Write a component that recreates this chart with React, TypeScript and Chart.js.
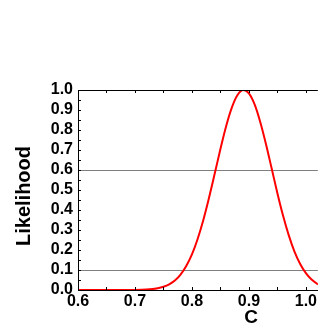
import React, { useEffect, useRef } from "react";
import { Chart, registerables } from "chart.js";

Chart.register(...registerables);

const cValues = [0.6, 0.65, 0.7, 0.72, 0.74, 0.75, 0.76, 0.77, 0.78, 0.79, 0.8, 0.81, 0.82, 0.83, 0.84, 0.85, 0.86, 0.87, 0.88, 0.89, 0.9, 0.91, 0.92, 0.93, 0.94, 0.95, 0.96, 0.97, 0.98, 0.99, 1.0, 1.01, 1.02, 1.03];
const likelihood = [0, 0, 0.0005, 0.0023, 0.0087, 0.016, 0.028, 0.047, 0.077, 0.12, 0.178, 0.255, 0.35, 0.461, 0.582, 0.705, 0.819, 0.912, 0.975, 1.0, 0.983, 0.928, 0.839, 0.729, 0.607, 0.484, 0.371, 0.273, 0.192, 0.13, 0.084, 0.052, 0.031, 0.018];
const gridLevels = [0.6, 0.1];
const xTickLabels = [0.6, 0.7, 0.8, 0.9, 1.0];
const yTickLabels = [0, 0.1, 0.2, 0.3, 0.4, 0.5, 0.6, 0.7, 0.8, 0.9, 1.0];
const xTitle = "C";
const yTitle = "Likelihood";

const FONT = "'Liberation Sans', Arial, sans-serif";

const decoPlugin = {
  id: "deco",
  afterDatasetsDraw(chart: any) {
    const { ctx, chartArea } = chart;
    const xs = chart.scales.x;
    const ys = chart.scales.y;
    ctx.save();
    ctx.strokeStyle = "#000";
    ctx.lineWidth = 1;
    ctx.beginPath();
    ctx.moveTo(chartArea.left, chartArea.top + 0.5);
    ctx.lineTo(chartArea.right, chartArea.top + 0.5);
    ctx.stroke();
    const len = 3;
    ctx.beginPath();
    for (let v = 0.6; v <= xs.max + 1e-9; v += 0.05) {
      const px = Math.round(xs.getPixelForValue(v)) + 0.5;
      ctx.moveTo(px, chartArea.bottom);
      ctx.lineTo(px, chartArea.bottom - len);
      ctx.moveTo(px, chartArea.top);
      ctx.lineTo(px, chartArea.top + len);
    }
    for (let v = 0; v <= 1 + 1e-9; v += 0.05) {
      const py = Math.round(ys.getPixelForValue(v)) + 0.5;
      ctx.moveTo(chartArea.left, py);
      ctx.lineTo(chartArea.left + len, py);
    }
    ctx.stroke();
    ctx.fillStyle = "#000";
    ctx.font = `bold 19px ${FONT}`;
    ctx.textAlign = "center";
    ctx.textBaseline = "middle";
    ctx.fillText(xTitle, 251, 318);
    ctx.translate(24, 196);
    ctx.rotate(-Math.PI / 2);
    ctx.font = `bold 20px ${FONT}`;
    ctx.fillText(yTitle, 0, 0);
    ctx.restore();
  },
};

export default function App() {
  const ref = useRef<HTMLCanvasElement>(null);
  useEffect(() => {
    const points = cValues.map((c, i) => ({ x: c, y: likelihood[i] }));
    const chart = new Chart(ref.current!, {
      type: "line",
      data: {
        datasets: [
          {
            data: points,
            borderColor: "#ff0000",
            borderWidth: 2,
            pointRadius: 0,
            cubicInterpolationMode: "monotone",
            fill: false,
          },
        ],
      },
      options: {
        responsive: false,
        animation: false,
        devicePixelRatio: 1,
        layout: { padding: { top: 90, right: 0, left: 0, bottom: 0 } },
        plugins: { legend: { display: false }, tooltip: { enabled: false } },
        scales: {
          x: {
            type: "linear",
            min: 0.6,
            max: 1.021,
            afterFit: (s: any) => {
              s.height = 42;
            },
            afterBuildTicks: (s: any) => {
              s.ticks = xTickLabels.map((v) => ({ value: v }));
            },
            ticks: {
              autoSkip: false,
              color: "#000",
              font: { family: FONT, size: 16, weight: "bold" },
              padding: 2,
              maxRotation: 0,
              callback: (v: any) => Number(v).toFixed(1),
            },
            grid: { display: false, drawTicks: false },
            border: { display: true, color: "#000", width: 1 },
          },
          y: {
            type: "linear",
            min: 0,
            max: 1,
            afterFit: (s: any) => {
              s.width = 78;
            },
            afterBuildTicks: (s: any) => {
              s.ticks = yTickLabels.map((v) => ({ value: v }));
            },
            ticks: {
              autoSkip: false,
              color: "#000",
              font: { family: FONT, size: 16, weight: "bold" },
              padding: 5,
              callback: (v: any) => Number(v).toFixed(1),
            },
            grid: {
              drawTicks: false,
              lineWidth: 1,
              color: (ctx: any) =>
                ctx.tick && gridLevels.some((g) => Math.abs(ctx.tick.value - g) < 1e-6)
                  ? "#808080"
                  : "rgba(0,0,0,0)",
            },
            border: { display: true, color: "#000", width: 1 },
          },
        },
      },
      plugins: [decoPlugin],
    } as any);
    return () => chart.destroy();
  }, []);
  return (
    <div style={{ position: "absolute", left: 0, top: 0, width: 319, height: 332, background: "#fff" }}>
      <canvas ref={ref} width={319} height={332} />
    </div>
  );
}
